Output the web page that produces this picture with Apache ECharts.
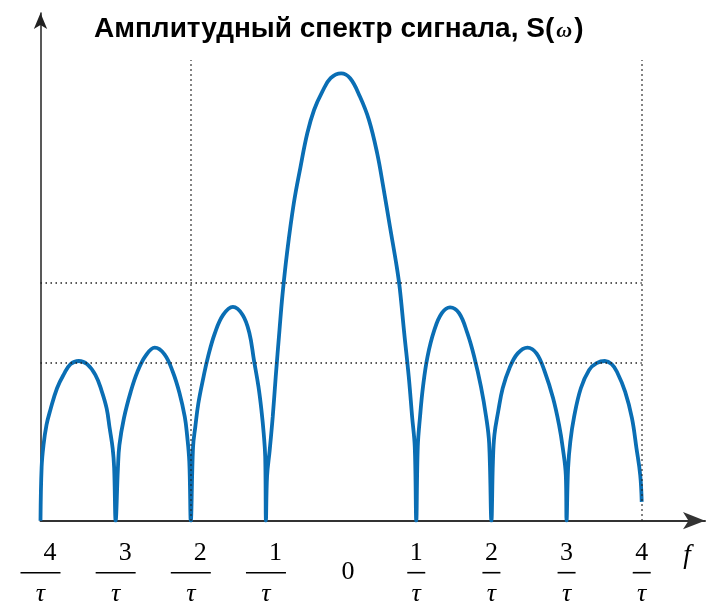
<!DOCTYPE html>
<html>
<head>
<meta charset="utf-8">
<script src="https://cdn.jsdelivr.net/npm/echarts@6/dist/echarts.min.js"></script>
<style>
html,body{margin:0;padding:0;background:#fff;}
#chart{width:708px;height:603px;}
</style>
</head>
<body>
<div id="chart"></div>
<script>
// ---- data ----
var freq = [
  -4, -3.985, -3.96, -3.92, -3.87, -3.78, -3.69, -3.60, -3.49, -3.38, -3.27, -3.19, -3.12, -3.08, -3.04, -3.02, -3,
  -2.97, -2.95, -2.89, -2.80, -2.71, -2.60, -2.48, -2.35, -2.24, -2.15, -2.08, -2.05, -2.02, -2,
  -1.97, -1.94, -1.90, -1.83, -1.77, -1.68, -1.57, -1.44, -1.31, -1.22, -1.16, -1.10, -1.06, -1.03, -1.01, -1,
  -0.985, -0.95, -0.91, -0.87, -0.82, -0.78, -0.72, -0.63, -0.54, -0.45, -0.36, -0.25, -0.14, 0,
  0.12, 0.25, 0.37, 0.48, 0.56, 0.65, 0.74, 0.78, 0.84, 0.90, 0.945, 0.98, 1,
  1.02, 1.05, 1.09, 1.15, 1.24, 1.34, 1.45, 1.57, 1.68, 1.77, 1.86, 1.93, 1.97, 2,
  2.02, 2.04, 2.09, 2.15, 2.24, 2.35, 2.48, 2.60, 2.71, 2.82, 2.90, 2.95, 2.99, 3,
  3.02, 3.05, 3.10, 3.19, 3.30, 3.40, 3.51, 3.60, 3.67, 3.78, 3.87, 3.93, 3.98, 4.0
];
var amp = [
  0, 0.12, 0.169, 0.214, 0.247, 0.296, 0.327, 0.350, 0.357, 0.350, 0.326, 0.292, 0.251, 0.207, 0.162, 0.118, 0,
  0.117, 0.169, 0.229, 0.288, 0.333, 0.369, 0.387, 0.372, 0.333, 0.285, 0.232, 0.192, 0.132, 0,
  0.165, 0.210, 0.262, 0.322, 0.367, 0.419, 0.460, 0.478, 0.460, 0.419, 0.359, 0.300, 0.247, 0.195, 0.143, 0,
  0.10, 0.158, 0.232, 0.322, 0.426, 0.505, 0.598, 0.709, 0.791, 0.866, 0.918, 0.959, 0.989, 1.0,
  0.989, 0.948, 0.896, 0.821, 0.747, 0.657, 0.568, 0.520, 0.419, 0.322, 0.232, 0.165, 0,
  0.165, 0.232, 0.300, 0.367, 0.426, 0.464, 0.477, 0.464, 0.419, 0.367, 0.300, 0.232, 0.173, 0,
  0.132, 0.192, 0.244, 0.296, 0.341, 0.374, 0.387, 0.374, 0.333, 0.274, 0.214, 0.162, 0.101, 0,
  0.117, 0.177, 0.232, 0.296, 0.337, 0.352, 0.357, 0.350, 0.333, 0.288, 0.229, 0.162, 0.102, 0.042
];
var tickValues = [-4, -3, -2, -1, 0, 1, 2, 3, 4];
var hGuides = [0.531, 0.352];   // dotted horizontal reference levels
var vGuides = [-2, 4];          // dotted vertical reference lines
var guideTop = 1.03;
var titleMain = 'Амплитудный спектр сигнала, S(';
var titleSym = 'ω';
var axisName = 'f';
var denom = 'τ';

// ---- build ----
var points = freq.map(function (f, i) { return [f, amp[i]]; });
var guideLines = [];
hGuides.forEach(function (v) { guideLines.push([{ coord: [-4, v] }, { coord: [4, v] }]); });
vGuides.forEach(function (v) { guideLines.push([{ coord: [v, 0] }, { coord: [v, guideTop] }]); });

var serif = '"Liberation Serif", "DejaVu Serif", serif';
var chart = echarts.init(document.getElementById('chart'), null, { renderer: 'canvas' });
chart.setOption({
  animation: false,
  backgroundColor: '#ffffff',
  title: {
    left: 89, top: 8,
    text: '{t|' + titleMain + '}{w|' + titleSym + '}{t|)}',
    textStyle: {
      rich: {
        t: { fontFamily: '"Liberation Sans", Arial, sans-serif', fontWeight: 'bold', fontSize: 28, color: '#000', lineHeight: 32 },
        w: { fontFamily: serif, fontStyle: 'italic', fontSize: 22, color: '#000', lineHeight: 32, padding: [5, 2, 0, 2] }
      }
    }
  },
  grid: { left: 40.5, right: 3, top: 13, bottom: 82.3, containLabel: false, outerBoundsMode: 'none' },
  xAxis: {
    type: 'value', min: -4, max: 4.842, interval: 1,
    name: axisName, nameLocation: 'end', nameGap: -18,
    nameTextStyle: { fontFamily: serif, fontStyle: 'italic', fontSize: 27, color: '#000', align: 'center', verticalAlign: 'top', padding: [22, 0, 0, 0] },
    axisLine: { show: true, onZero: false, lineStyle: { color: '#333', width: 2 }, symbol: ['none', 'arrow'], symbolSize: [13, 22] },
    axisTick: { show: false },
    splitLine: { show: false },
    axisLabel: {
      show: true, interval: 0, margin: 20, showMaxLabel: false,
      formatter: function (v) {
        if (tickValues.indexOf(v) < 0) return '';
        if (v === 0) return '{z|0}';
        if (v < 0) return '{nn|' + (-v) + '}\n{bn|}\n{dn|' + denom + '}';
        return '{np|' + v + '}\n{bp|}\n{dp|' + denom + '}';
      },
      rich: {
        z: { fontFamily: serif, fontSize: 26, color: '#000', lineHeight: 26, padding: [36, 0, 0, 14] },
        nn: { fontFamily: serif, fontSize: 26, color: '#000', lineHeight: 24, width: 36, align: 'right', padding: [0, 4, 0, 0] },
        bn: { width: 40, height: 1.6, lineHeight: 16, backgroundColor: '#000' },
        dn: { fontFamily: serif, fontStyle: 'italic', fontSize: 26, color: '#000', lineHeight: 26, width: 40, align: 'center' },
        np: { fontFamily: serif, fontSize: 26, color: '#000', lineHeight: 24, width: 18, align: 'center' },
        bp: { width: 18, height: 1.6, lineHeight: 16, backgroundColor: '#000' },
        dp: { fontFamily: serif, fontStyle: 'italic', fontSize: 26, color: '#000', lineHeight: 26, width: 18, align: 'center' }
      }
    }
  },
  yAxis: {
    type: 'value', min: 0, max: 1.1348,
    axisLine: { show: true, onZero: false, lineStyle: { color: '#222', width: 1.5 }, symbol: ['none', 'arrow'], symbolSize: [10, 16] },
    axisTick: { show: false },
    axisLabel: { show: false },
    splitLine: { show: false }
  },
  series: [{
    type: 'line',
    data: points,
    showSymbol: false,
    smooth: 0.4,
    lineStyle: { color: '#0A6EB4', width: 3.8 },
    markLine: {
      silent: true,
      symbol: ['none', 'none'],
      label: { show: false },
      lineStyle: { color: '#222', type: [1.5, 3.5], width: 1.5 },
      data: guideLines
    },
    z: 3
  }]
});
</script>
</body>
</html>
